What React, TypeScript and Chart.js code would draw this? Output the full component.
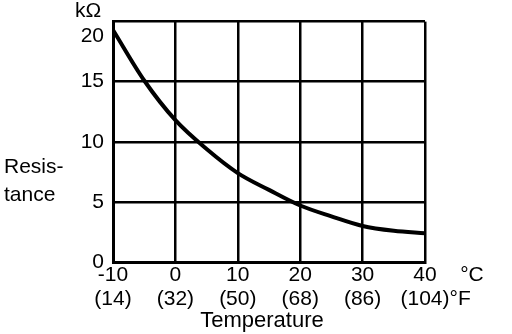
import React, { useEffect, useRef } from "react";
import { Chart, registerables } from "chart.js";

Chart.register(...registerables);

const tempC = [-10, -5, 0, 5, 10, 15, 20, 25, 30, 35, 40];
const resistance = [19.3, 15.1, 11.8, 9.4, 7.4, 6.0, 4.7, 3.8, 3.0, 2.6, 2.4];
const xTickC = ["-10", "0", "10", "20", "30", "40"];
const xTickF = ["(14)", "(32)", "(50)", "(68)", "(86)", "(104)"];
const yTicks = ["0", "5", "10", "15", "20"];
const yMax = 20;

const FONT = "'Liberation Sans', Arial, sans-serif";

const extraText = {
  id: "extraText",
  afterDraw(chart: any) {
    const ctx = chart.ctx;
    const xs = chart.scales.x;
    const ys = chart.scales.y;
    ctx.save();
    ctx.fillStyle = "#000";
    ctx.font = `21px ${FONT}`;
    ctx.textBaseline = "middle";
    // top tick label sits just below the frame, as in the original
    ctx.textAlign = "right";
    ctx.fillText(yTicks[yTicks.length - 1], ys.right - 9, ys.getPixelForValue(yMax) + 15);
    ctx.textAlign = "left";
    ctx.fillText("kΩ", 75, 11);
    ctx.fillText("Resis-", 4, 167);
    ctx.fillText("tance", 4, 195);
    ctx.textAlign = "center";
    ctx.fillText("°C", 472, 275);
    const x40 = xs.getPixelForValue(40);
    const w = ctx.measureText(xTickF[xTickF.length - 1]).width;
    ctx.textAlign = "left";
    ctx.fillText("°F", x40 + w / 2, 299);
    ctx.font = `22px ${FONT}`;
    ctx.textAlign = "center";
    ctx.fillText("Temperature", 262, 321);
    ctx.restore();
  },
};

export default function App() {
  const ref = useRef<HTMLCanvasElement>(null);
  useEffect(() => {
    if (!ref.current) return;
    const chart = new Chart(ref.current, {
      type: "line",
      data: {
        datasets: [
          {
            data: tempC.map((t, i) => ({ x: t, y: resistance[i] })),
            borderColor: "#000",
            borderWidth: 4,
            pointRadius: 0,
            cubicInterpolationMode: "monotone",
            fill: false,
          },
        ],
      },
      options: {
        animation: false,
        responsive: false,
        layout: { padding: { top: 17, right: 87, left: 0, bottom: 0 } },
        plugins: { legend: { display: false }, tooltip: { enabled: false } },
        scales: {
          x: {
            type: "linear",
            min: -10,
            max: 40,
            afterFit: (s: any) => {
              s.height = 72;
            },
            ticks: {
              stepSize: 10,
              color: "#000",
              padding: 1,
              maxRotation: 0,
              font: { family: FONT, size: 21, lineHeight: 1.15 },
              callback: (v: any) => {
                const i = Math.round((Number(v) + 10) / 10);
                return [xTickC[i], xTickF[i]];
              },
            },
            grid: { color: "#000", lineWidth: 2.5, drawTicks: false },
            border: { color: "#000", width: 3 },
          },
          y: {
            type: "linear",
            min: 0,
            max: yMax,
            afterFit: (s: any) => {
              s.width = 113;
            },
            ticks: {
              stepSize: 5,
              color: "#000",
              padding: 9,
              font: { family: FONT, size: 21 },
              callback: (v: any) => (Number(v) === yMax ? "" : yTicks[Math.round(Number(v) / 5)]),
            },
            grid: { color: "#000", lineWidth: 2.5, drawTicks: false },
            border: { color: "#000", width: 3 },
          },
        },
      },
      plugins: [extraText],
    });
    return () => chart.destroy();
  }, []);
  return (
    <div style={{ position: "fixed", left: 0, top: 0, width: 512, height: 334, background: "#fff" }}>
      <canvas ref={ref} width={512} height={334} />
    </div>
  );
}
